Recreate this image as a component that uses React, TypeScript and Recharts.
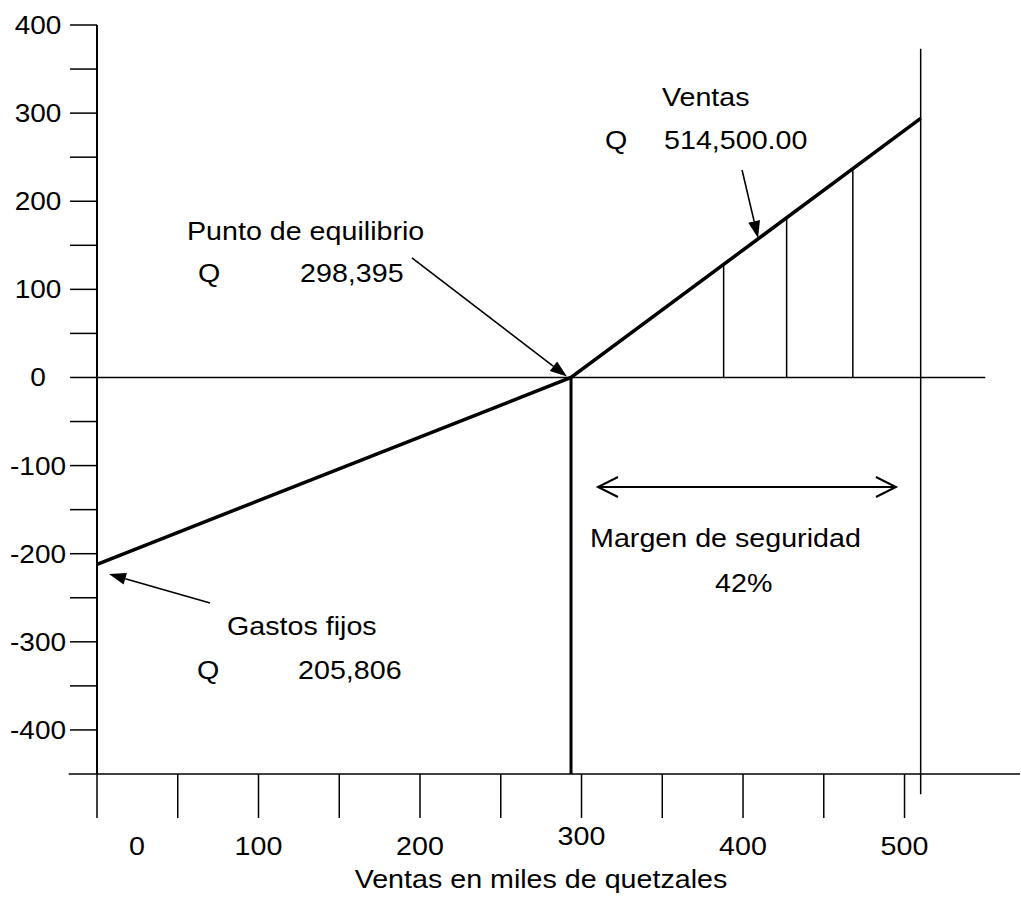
import React from 'react';
import { LineChart, Line, XAxis, YAxis, ReferenceLine, ReferenceDot } from 'recharts';

// ventas (miles de Q) en el eje x, utilidad (miles de Q) en el eje y
const xTicks = [0, 50, 100, 150, 200, 250, 300, 350, 400, 450, 500];
const yTicks = [-400, -350, -300, -250, -200, -150, -100, -50, 0, 50, 100, 150, 200, 250, 300, 350, 400];
const xDomain = [0, 571.5];
const yDomain = [-450, 400];

const profitX = [0, 293.5, 510];
const profitY = [-212, 0, 294];

const breakEvenX = 293.5;
const salesX = 510;
const salesSpan = [373, -473];
const zeroLineEnd = 550;
const axisStart = -17.5;

// lineas del margen de seguridad
const marginX = [388, 427, 468];
const marginTop = [129, 182, 236];

const notes = [
  { x: 55.7, y: 156, text: 'Punto de equilibrio' },
  { x: 62.5, y: 108.3, text: 'Q' },
  { x: 125.7, y: 108.3, text: '298,395' },
  { x: 349.8, y: 308.1, text: 'Ventas' },
  { x: 314.6, y: 259.3, text: 'Q' },
  { x: 351.1, y: 259.3, text: '514,500.00' },
  { x: 80.5, y: -292.3, text: 'Gastos fijos' },
  { x: 61.9, y: -342.2, text: 'Q' },
  { x: 124.5, y: -342.2, text: '205,806' },
  { x: 305.3, y: -192.4, text: 'Margen de seguridad' },
  { x: 382.7, y: -243.5, text: '42%' },
];

const arrows = [
  { x1: 195, y1: 135.6, x2: 291, y2: 1 },
  { x1: 399.4, y1: 235.4, x2: 409.3, y2: 158.3 },
  { x1: 70, y1: -256, x2: 7.4, y2: -223 },
];
const marginArrow = { x1: 310.2, x2: 494.7, y: -124.3 };

const profitData = profitX.map((x, i) => ({ x, y: profitY[i] }));

const FONT = '"Liberation Sans", Arial, sans-serif';
const SX = 1.12;

const Txt = ({ x, y, children, anchor = 'start', size = 25.6 }: any) => (
  <text
    transform={`translate(${x},${y}) scale(${SX},1)`}
    x={0}
    y={0}
    textAnchor={anchor}
    fontFamily={FONT}
    fontSize={size}
    fill="#000"
  >
    {children}
  </text>
);

const XTick = ({ x, y, payload }: any) => {
  const v = payload.value;
  if (v % 100 !== 0) return <g />;
  const dx = v === 0 ? 40 : 0;
  const dy = v === 300 ? 25 : 35;
  return <Txt x={x + dx} y={y + dy} anchor="middle">{v}</Txt>;
};

const YTick = ({ x, y, payload }: any) => {
  const v = payload.value;
  if (v % 100 !== 0) return <g />;
  return <Txt x={x - 30} y={y + 9} anchor="middle" size={25}>{v}</Txt>;
};

const arrowShape = (p: any) => {
  const { x1, y1, x2, y2 } = p;
  const a = Math.atan2(y2 - y1, x2 - x1);
  const len = 17;
  const w = 6;
  const bx = x2 - len * Math.cos(a);
  const by = y2 - len * Math.sin(a);
  const px = -Math.sin(a) * w;
  const py = Math.cos(a) * w;
  return (
    <g>
      <line x1={x1} y1={y1} x2={bx} y2={by} stroke="#000" strokeWidth={1.6} />
      <polygon points={`${x2},${y2} ${bx + px},${by + py} ${bx - px},${by - py}`} fill="#000" />
    </g>
  );
};

const doubleArrowShape = (p: any) => {
  const { x1, y1, x2, y2 } = p;
  return (
    <g fill="none" stroke="#000" strokeWidth={2}>
      <line x1={x1} y1={y1} x2={x2} y2={y2} />
      <polyline points={`${x1 + 20},${y1 - 10} ${x1},${y1} ${x1 + 20},${y1 + 10}`} />
      <polyline points={`${x2 - 20},${y2 - 10} ${x2},${y2} ${x2 - 20},${y2 + 10}`} />
    </g>
  );
};

const Title = ({ viewBox }: any) => (
  <Txt x={viewBox.x + viewBox.width * 0.481} y={viewBox.y + 114} anchor="middle">
    Ventas en miles de quetzales
  </Txt>
);

export default function App() {
  return (
    <div style={{ position: 'absolute', left: 0, top: 0, background: '#fff' }}>
      <LineChart
        width={1021}
        height={898}
        margin={{ top: 25, right: 1, bottom: 0, left: 0 }}
      >
        <XAxis
          type="number"
          dataKey="x"
          domain={xDomain}
          allowDataOverflow
          ticks={xTicks}
          interval={0}
          tickSize={44}
          height={124}
          axisLine={{ stroke: '#000', strokeWidth: 1.5 }}
          tickLine={{ stroke: '#000', strokeWidth: 1.5 }}
          tick={XTick}
          label={{ content: Title }}
        />
        <YAxis
          type="number"
          domain={yDomain}
          allowDataOverflow
          ticks={yTicks}
          interval={0}
          tickSize={27}
          width={97}
          axisLine={{ stroke: '#000', strokeWidth: 2 }}
          tickLine={{ stroke: '#000', strokeWidth: 1.5 }}
          tick={YTick}
        />
        <ReferenceLine
          segment={[{ x: axisStart, y: yDomain[0] }, { x: 0, y: yDomain[0] }]}
          stroke="#000"
          strokeWidth={1.5}
          ifOverflow="visible"
        />
        <ReferenceLine
          segment={[{ x: 0, y: 0 }, { x: zeroLineEnd, y: 0 }]}
          stroke="#000"
          strokeWidth={1.5}
          ifOverflow="visible"
        />
        <ReferenceLine
          segment={[{ x: breakEvenX, y: 0 }, { x: breakEvenX, y: yDomain[0] }]}
          stroke="#000"
          strokeWidth={3}
          ifOverflow="visible"
        />
        <ReferenceLine
          segment={[{ x: salesX, y: salesSpan[0] }, { x: salesX, y: salesSpan[1] }]}
          stroke="#000"
          strokeWidth={1.5}
          ifOverflow="visible"
        />
        {marginX.map((mx, i) => (
          <ReferenceLine
            key={`m${i}`}
            segment={[{ x: mx, y: 0 }, { x: mx, y: marginTop[i] }]}
            stroke="#000"
            strokeWidth={1.5}
            ifOverflow="visible"
          />
        ))}
        <Line
          data={profitData}
          dataKey="y"
          type="linear"
          stroke="#000"
          strokeWidth={3.5}
          dot={false}
          isAnimationActive={false}
        />
        {arrows.map((a, i) => (
          <ReferenceLine
            key={`a${i}`}
            segment={[{ x: a.x1, y: a.y1 }, { x: a.x2, y: a.y2 }]}
            ifOverflow="visible"
            shape={arrowShape}
          />
        ))}
        <ReferenceLine
          segment={[{ x: marginArrow.x1, y: marginArrow.y }, { x: marginArrow.x2, y: marginArrow.y }]}
          ifOverflow="visible"
          shape={doubleArrowShape}
        />
        {notes.map((n, i) => (
          <ReferenceDot
            key={`n${i}`}
            x={n.x}
            y={n.y}
            r={0}
            ifOverflow="visible"
            shape={(p: any) => <Txt x={p.cx} y={p.cy}>{n.text}</Txt>}
          />
        ))}
      </LineChart>
    </div>
  );
}
